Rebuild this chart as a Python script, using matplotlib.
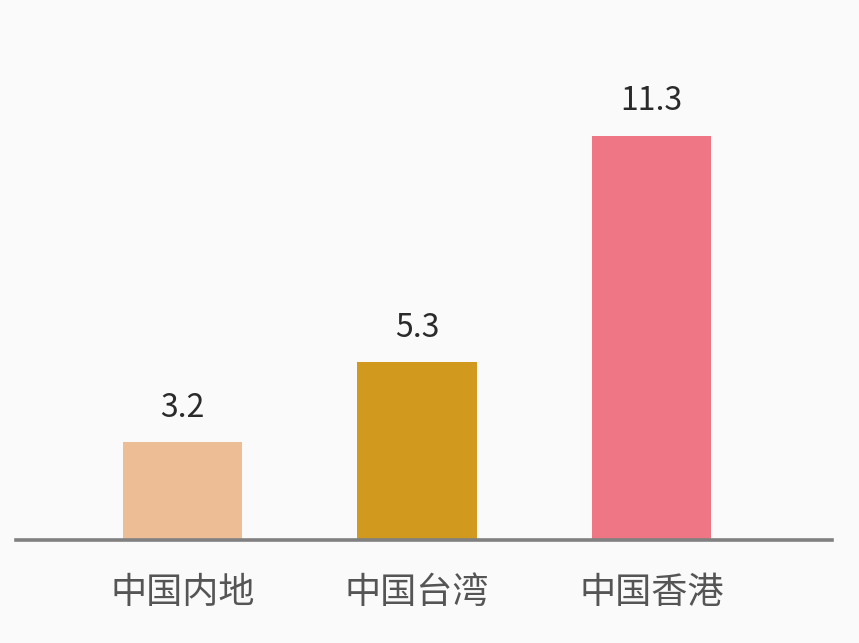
import numpy as np
import matplotlib.pyplot as plt

plt.rcParams['font.family'] = ['Noto Sans CJK SC', 'DejaVu Sans']

categories = ["中国内地", "中国台湾", "中国香港"]
values = [3.2, 5.3, 11.3]
colors = ["#EDBD96", "#D19A1E", "#EE7685"]

fig = plt.figure(figsize=(8.59, 6.43), dpi=100, facecolor="#FAFAFA")
ax = fig.add_axes([16/859, 1 - 540/643, 816/859, 450/643])
ax.set_facecolor("#FAFAFA")

x = np.arange(len(categories))
bars = ax.bar(x, values, width=0.51, color=colors, zorder=2)

ax.set_xlim(-0.71, 2.77)
ax.set_ylim(0.6, 0.6 + 450/37.8)

for b, v in zip(bars, values):
    ax.annotate("%.1f" % v, (b.get_x() + b.get_width()/2, v),
                xytext=(0, 13), textcoords="offset points",
                ha="center", va="bottom", fontsize=23, color="#2a2a2a")

for s in ["top", "right", "left"]:
    ax.spines[s].set_visible(False)
ax.spines["bottom"].set_color("#808080")
ax.spines["bottom"].set_linewidth(2.6)
ax.spines["bottom"].set_zorder(3)

ax.set_yticks([])
ax.set_xticks(x)
ax.set_xticklabels(categories, fontsize=26, color="#555555")
ax.tick_params(axis="x", length=0, pad=25)

plt.savefig("out.png", dpi=100, facecolor=fig.get_facecolor())
